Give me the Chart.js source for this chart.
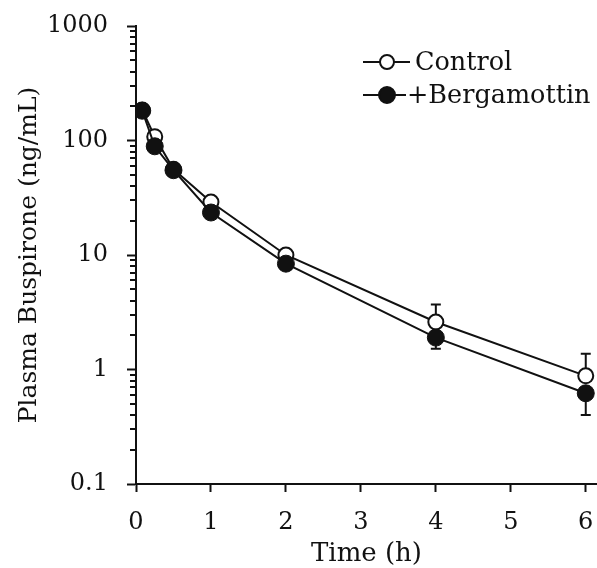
<!DOCTYPE html>
<html>
<head>
<meta charset="utf-8">
<script src="https://cdn.jsdelivr.net/npm/chart.js@4/dist/chart.umd.min.js"></script>
<style>
  html, body { margin: 0; padding: 0; background: #fff; }
</style>
</head>
<body>
<canvas id="pkChart" width="597" height="568"></canvas>
<script>
// time points (h) and mean plasma concentrations (ng/mL)
var timeH = [0.083, 0.25, 0.5, 1, 2, 4, 6];
var control = [185, 108, 56, 29, 10, 2.6, 0.88];
var bergamottin = [182, 89, 55, 23.5, 8.4, 1.9, 0.62];
// one-sided error bars (upper end for control, lower end for bergamottin)
var controlErrHigh = [null, null, null, null, null, 3.7, 1.37];
var bergamottinErrLow = [null, null, null, null, null, 1.52, 0.40];
var yTicks = [0.1, 1, 10, 100, 1000];
var xTicks = [0, 1, 2, 3, 4, 5, 6];
var legendLabels = ['Control', '+Bergamottin'];

var FONT = '"DejaVu Serif", serif';
var INK = '#111';

// error bars, drawn under the markers
var errorBars = {
    id: 'errorBars',
    beforeDatasetsDraw: function(chart) {
        var ctx = chart.ctx, x = chart.scales.x, y = chart.scales.y;
        var sets = [[control, controlErrHigh], [bergamottin, bergamottinErrLow]];
        ctx.save();
        ctx.strokeStyle = INK;
        ctx.lineWidth = 2;
        sets.forEach(function(s) {
            s[1].forEach(function(e, i) {
                if (e == null) return;
                var px = x.getPixelForValue(timeH[i]);
                var p0 = y.getPixelForValue(s[0][i]);
                var p1 = y.getPixelForValue(e);
                ctx.beginPath();
                ctx.moveTo(px, p0); ctx.lineTo(px, p1);
                ctx.moveTo(px - 5, p1); ctx.lineTo(px + 5, p1);
                ctx.stroke();
            });
        });
        ctx.restore();
    }
};

// minor log ticks on the y axis + the legend box
var extras = {
    id: 'extras',
    afterDraw: function(chart) {
        var ctx = chart.ctx, y = chart.scales.y;
        var left = chart.chartArea.left;
        ctx.save();
        ctx.strokeStyle = INK;
        ctx.lineWidth = 2;
        for (var d = 0; d < yTicks.length - 1; d++) {
            for (var k = 2; k <= 9; k++) {
                var py = Math.round(y.getPixelForValue(yTicks[d] * k));
                ctx.beginPath();
                ctx.moveTo(left - 6, py); ctx.lineTo(left, py);
                ctx.stroke();
            }
        }
        // legend
        var rows = [
            { y: 62, fill: '#fff', r: 7, text: legendLabels[0], tx: 415, lineEnd: 410 },
            { y: 95, fill: INK, r: 8, text: legendLabels[1], tx: 407, lineEnd: 406 }
        ];
        ctx.font = '25.5px ' + FONT;
        ctx.textBaseline = 'middle';
        ctx.fillStyle = INK;
        rows.forEach(function(r) {
            ctx.beginPath();
            ctx.moveTo(363, r.y); ctx.lineTo(r.lineEnd, r.y);
            ctx.stroke();
            ctx.beginPath();
            ctx.arc(387, r.y, r.r, 0, Math.PI * 2);
            ctx.fillStyle = r.fill;
            ctx.fill();
            ctx.stroke();
            ctx.fillStyle = INK;
            ctx.fillText(r.text, r.tx, r.y + 1);
        });
        ctx.restore();
    }
};

var pts = function(vals) {
    return vals.map(function(v, i) { return { x: timeH[i], y: v }; });
};

var ctx = document.getElementById('pkChart').getContext('2d');
var pkChart = new Chart(ctx, {
    type: 'line',
    data: {
        datasets: [{
            label: legendLabels[1],
            data: pts(bergamottin),
            borderColor: INK,
            borderWidth: 2,
            pointRadius: 8.5,
            pointBackgroundColor: INK,
            pointBorderColor: INK,
            pointBorderWidth: 1,
            tension: 0
        }, {
            label: legendLabels[0],
            data: pts(control),
            borderColor: INK,
            borderWidth: 2,
            pointRadius: 7.5,
            pointBackgroundColor: '#fff',
            pointBorderColor: INK,
            pointBorderWidth: 2,
            tension: 0
        }]
    },
    options: {
        responsive: false,
        animation: false,
        layout: { autoPadding: false, padding: { top: 26, right: 0, left: 0, bottom: 0 } },
        plugins: {
            legend: { display: false },
            tooltip: { enabled: false }
        },
        scales: {
            x: {
                type: 'linear',
                min: 0,
                max: 6.15,
                afterFit: function(s) {
                    s.height = 84;
                    s.paddingLeft = 0;
                    s.paddingRight = 0;
                },
                afterBuildTicks: function(s) {
                    s.ticks = xTicks.map(function(v) { return { value: v }; });
                },
                border: { color: INK, width: 2 },
                grid: { drawOnChartArea: false, tickLength: 8, tickColor: INK, tickWidth: 2 },
                ticks: {
                    color: INK,
                    font: { family: FONT, size: 24 },
                    padding: 16,
                    maxRotation: 0
                },
                title: {
                    display: true,
                    text: 'Time (h)',
                    color: INK,
                    font: { family: FONT, size: 26, lineHeight: 1 },
                    padding: { top: 0, bottom: 1 }
                }
            },
            y: {
                type: 'logarithmic',
                min: 0.1,
                max: 1000,
                afterFit: function(s) {
                    s.width = 136;
                    s.paddingTop = 0;
                    s.paddingBottom = 0;
                },
                afterBuildTicks: function(s) {
                    s.ticks = yTicks.map(function(v) { return { value: v, major: true }; });
                },
                border: { color: INK, width: 2 },
                grid: { drawOnChartArea: false, tickLength: 9, tickColor: INK, tickWidth: 2 },
                ticks: {
                    color: INK,
                    font: { family: FONT, size: 24 },
                    padding: 19,
                    callback: function(v) { return String(v); }
                },
                title: {
                    display: true,
                    text: 'Plasma Buspirone (ng/mL)',
                    color: INK,
                    font: { family: FONT, size: 25, lineHeight: 1 },
                    padding: { top: 17, bottom: 0 }
                }
            }
        }
    },
    plugins: [errorBars, extras]
});
</script>
</body>
</html>
